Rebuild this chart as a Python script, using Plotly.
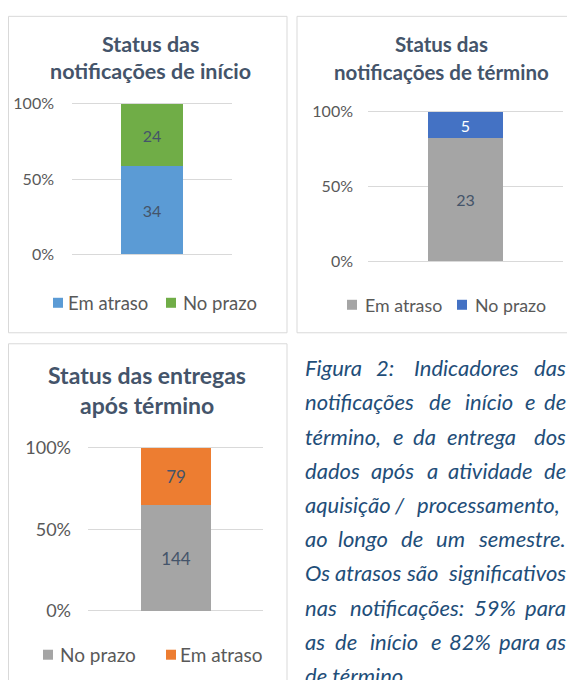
import plotly.graph_objects as go

# calibration of the page: the plot div sits at (8, ~15) and the photo is
# squeezed vertically, so reference pixels are mapped accordingly
OX, OY, SY = 8, 15.4, 0.977
W, H = 567, 680

# ---------------- data ----------------
titles = [
    ["Status das", "notificações de início"],
    ["Status das", "notificações de término"],
    ["Status das entregas", "após término"],
]
series_names_1 = ["Em atraso", "No prazo"]
values_1 = [34, 24]
series_names_2 = ["Em atraso", "No prazo"]
values_2 = [23, 5]
series_names_3 = ["No prazo", "Em atraso"]
values_3 = [144, 79]
tick_values = [0, 50, 100]
tick_labels = ["0%", "50%", "100%"]

caption_lines = [
    "Figura 2: Indicadores das",
    "notificações de início e de",
    "término, e da entrega dos",
    "dados após a atividade de",
    "aquisição / processamento,",
    "ao longo de um semestre.",
    "Os atrasos são significativos",
    "nas notificações: 59% para",
    "as de início e 82% para as",
    "de término.",
]
# centres (px) of the middle words of each justified line
caption_mid_centres = [
    [385, 466],
    [440, 489, 530],
    [398, 424, 481],
    [392, 432, 490],
    [399],
    [363, 412, 450],
    [368, 422],
    [407, 495],
    [346, 394, 436, 470, 519],
    [],
]
# right edge of the last word of each justified line
caption_right = [568, 568, 568, 568, 562, 568, 568, 568, 568, None]

# ---------------- style ----------------
colors_1 = ["#5B9BD5", "#70AD47"]
colors_2 = ["#A5A5A5", "#4472C4"]
colors_3 = ["#A5A5A5", "#ED7D31"]
label_colors_1 = ["#44546A", "#44546A"]
label_colors_2 = ["#44546A", "#FFFFFF"]
label_colors_3 = ["#44546A", "#44546A"]

FONT = "Lato, 'Open Sans', sans-serif"
TITLE_C = "#44546A"
TICK_C = "#595959"
GRID_C = "#D9D9D9"
CAP_C = "#1F4E79"


def px(x):
    return (x - OX) / W


def py(y):
    y = 1.0049 * y - 3.21
    return 1 - (y / SY - OY) / H


panels = [
    dict(names=series_names_1, vals=values_1, cols=colors_1, lcols=label_colors_1,
         xdom=(72, 232), ydom=(255, 104), width=0.39, title_x=150, title_y=(44, 71),
         title_size=21.5, tick_size=16, leg_size=18.5, lab_size=16,
         box=(8.5, 16.5, 287, 333), leg_y=303,
         leg=[(53, 66), (166, 181)], standoff=17),
    dict(names=series_names_2, vals=values_2, cols=colors_2, lcols=label_colors_2,
         xdom=(368, 563), ydom=(262, 112), width=0.385, title_x=441, title_y=(44, 72),
         title_size=20.5, tick_size=16, leg_size=17.8, lab_size=16,
         box=(297, 16.5, 573, 333), leg_y=305,
         leg=[(347, 363), (457, 473)], standoff=14),
    dict(names=series_names_3, vals=values_3, cols=colors_3, lcols=label_colors_3,
         xdom=(88, 263), ydom=(611, 448), width=0.40, title_x=147, title_y=(375, 405),
         title_size=23, tick_size=18, leg_size=19, lab_size=17,
         box=(8.5, 344, 287, 720), leg_y=655,
         leg=[(43, 58), (166, 178)], standoff=16),
]

PAD = 1.0  # value units beyond 0 / 100 so edge gridlines are drawn

fig = go.Figure()
shapes = []
annotations = []

for i, p in enumerate(panels):
    sfx = "" if i == 0 else str(i + 1)
    xa, ya = "x" + sfx, "y" + sfx
    for name, v, c, lc in zip(p["names"], p["vals"], p["cols"], p["lcols"]):
        fig.add_trace(go.Bar(
            x=[0], y=[v], name=name, xaxis=xa, yaxis=ya,
            width=p["width"], marker=dict(color=c, line=dict(width=0)),
            text=[str(v)], textposition="inside", insidetextanchor="middle",
            textangle=0, textfont=dict(family=FONT, size=p["lab_size"], color=lc),
            showlegend=False, hoverinfo="skip",
        ))
    y0p, y100p = p["ydom"]
    unit = (y0p - y100p) / 100.0
    fig.layout["xaxis" + sfx] = dict(
        domain=[px(p["xdom"][0]), px(p["xdom"][1])], range=[-0.5, 0.5],
        visible=False, anchor=ya, fixedrange=True)
    fig.layout["yaxis" + sfx] = dict(
        domain=[py(y0p + PAD * unit), py(y100p - PAD * unit)], range=[-PAD, 100 + PAD],
        anchor=xa, tickvals=tick_values, ticktext=tick_labels,
        showgrid=True, gridcolor=GRID_C, gridwidth=1, zeroline=False,
        showline=False, ticks="", ticklabelstandoff=p["standoff"],
        tickfont=dict(family=FONT, size=p["tick_size"], color=TICK_C), fixedrange=True)

    # panel frame
    x0, y0, x1, y1 = p["box"]
    shapes.append(dict(type="rect", xref="paper", yref="paper",
                       x0=px(x0), x1=px(x1), y0=py(y1), y1=py(y0),
                       line=dict(color=GRID_C, width=1), fillcolor="rgba(0,0,0,0)"))
    # title
    for line, yy in zip(titles[i], p["title_y"]):
        annotations.append(dict(text="<b>%s</b>" % line, x=px(p["title_x"]), y=py(yy),
                                xref="paper", yref="paper", xanchor="center", yanchor="middle",
                                showarrow=False,
                                font=dict(family=FONT, size=p["title_size"], color=TITLE_C)))
    # legend
    for (sq_x, tx_x), name, c in zip(p["leg"], p["names"], p["cols"]):
        shapes.append(dict(type="rect", xref="paper", yref="paper",
                           x0=px(sq_x), x1=px(sq_x + 10),
                           y0=py(p["leg_y"] + 5), y1=py(p["leg_y"] - 5),
                           line=dict(width=0), fillcolor=c))
        annotations.append(dict(text=name, x=px(tx_x), y=py(p["leg_y"]),
                                xref="paper", yref="paper", xanchor="left", yanchor="middle",
                                showarrow=False,
                                font=dict(family=FONT, size=p["leg_size"], color=TICK_C)))

# caption (justified by placing words)
CAP_L = 303
for k, line in enumerate(caption_lines):
    yy = py(368 + 34.2 * k)
    words = line.split(" ")
    cf = dict(family=FONT, size=22, color=CAP_C, style="italic")
    if caption_right[k] is None:
        annotations.append(dict(text=line, x=px(CAP_L), y=yy, xref="paper", yref="paper",
                                xanchor="left", yanchor="middle", showarrow=False, font=cf))
        continue
    annotations.append(dict(text=words[0], x=px(CAP_L), y=yy, xref="paper", yref="paper",
                            xanchor="left", yanchor="middle", showarrow=False, font=cf))
    for w, cx in zip(words[1:-1], caption_mid_centres[k]):
        annotations.append(dict(text=w, x=px(cx), y=yy, xref="paper", yref="paper",
                                xanchor="center", yanchor="middle", showarrow=False, font=cf))
    annotations.append(dict(text=words[-1], x=px(caption_right[k]), y=yy, xref="paper",
                            yref="paper", xanchor="right", yanchor="middle",
                            showarrow=False, font=cf))

fig.update_layout(
    width=W, height=H, margin=dict(l=0, r=0, t=0, b=0),
    paper_bgcolor="white", plot_bgcolor="white",
    barmode="stack", barnorm="percent", bargap=0,
    shapes=shapes, annotations=annotations, showlegend=False,
    font=dict(family=FONT),
)

fig.write_html("out.html")
